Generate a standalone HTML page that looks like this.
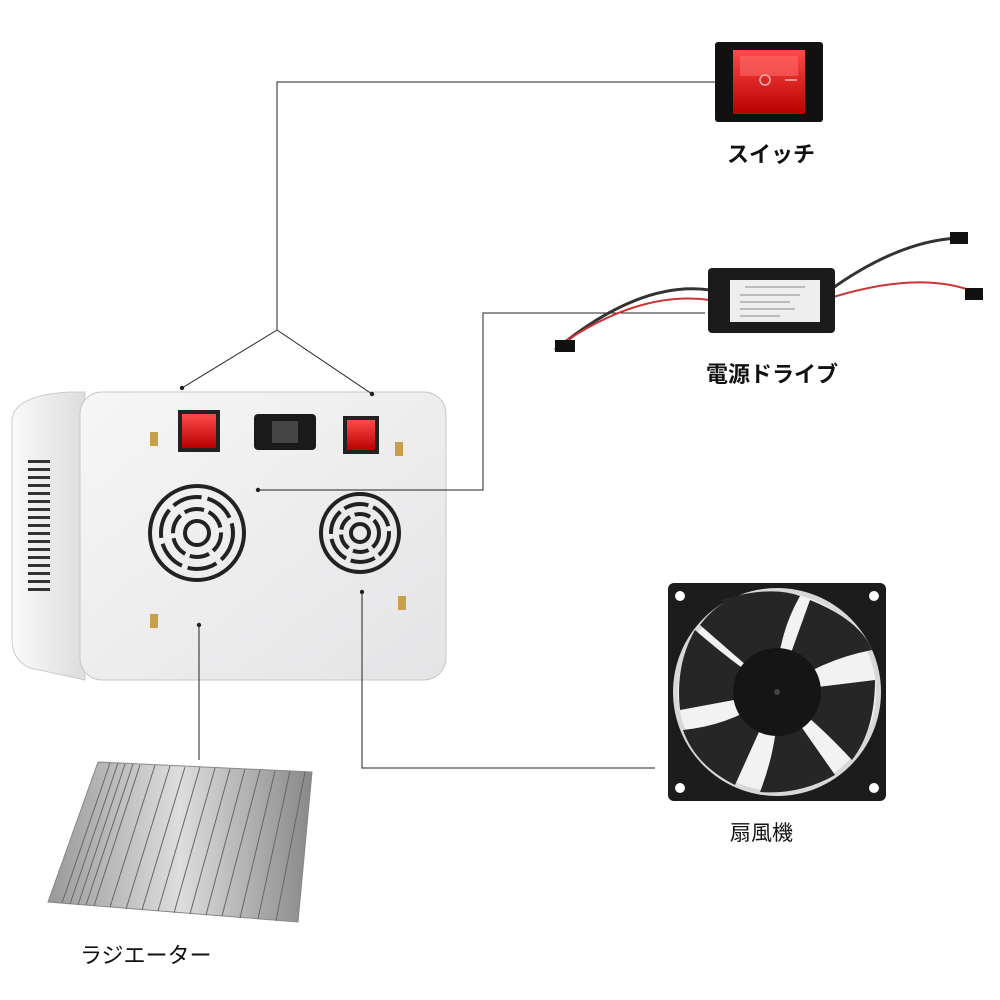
<!DOCTYPE html>
<html><head><meta charset="utf-8"><style>
html,body{margin:0;padding:0;background:#fff;}
body{width:1000px;height:1000px;position:relative;overflow:hidden;font-family:"Liberation Sans","Noto Sans CJK JP",sans-serif;}
.l{position:absolute;color:#111;white-space:nowrap;}
</style></head><body>
<svg width="1000" height="1000" style="position:absolute;left:0;top:0">
<defs>
<linearGradient id="pan" x1="0" y1="0" x2="1" y2="1"><stop offset="0" stop-color="#f6f6f6"/><stop offset="1" stop-color="#e4e4e6"/></linearGradient>
<linearGradient id="side" x1="0" y1="0" x2="1" y2="0"><stop offset="0" stop-color="#fafafa"/><stop offset="1" stop-color="#dcdcdc"/></linearGradient>
<linearGradient id="red" x1="0" y1="0" x2="0" y2="1"><stop offset="0" stop-color="#ff4a4a"/><stop offset="1" stop-color="#b80000"/></linearGradient>
<linearGradient id="rad" x1="0" y1="0" x2="1" y2="0"><stop offset="0" stop-color="#999"/><stop offset=".5" stop-color="#ddd"/><stop offset="1" stop-color="#888"/></linearGradient>
</defs>
<!-- LED box -->
<path d="M12,420 Q14,395 70,392 L85,392 L85,680 L30,668 Q12,660 12,640 Z" fill="url(#side)" stroke="#ccc"/>
<g fill="#333"><rect x="28" y="460" width="22" height="3"/><rect x="28" y="468" width="22" height="3"/><rect x="28" y="476" width="22" height="3"/><rect x="28" y="484" width="22" height="3"/><rect x="28" y="492" width="22" height="3"/><rect x="28" y="500" width="22" height="3"/><rect x="28" y="508" width="22" height="3"/><rect x="28" y="516" width="22" height="3"/><rect x="28" y="524" width="22" height="3"/><rect x="28" y="532" width="22" height="3"/><rect x="28" y="540" width="22" height="3"/><rect x="28" y="548" width="22" height="3"/><rect x="28" y="556" width="22" height="3"/><rect x="28" y="564" width="22" height="3"/><rect x="28" y="572" width="22" height="3"/><rect x="28" y="580" width="22" height="3"/><rect x="28" y="588" width="22" height="3"/></g>
<rect x="80" y="392" width="366" height="288" rx="22" fill="url(#pan)" stroke="#c8c8c8"/>
<rect x="178" y="410" width="42" height="42" fill="#222"/><rect x="182" y="414" width="34" height="34" fill="url(#red)"/>
<rect x="343" y="416" width="36" height="38" fill="#222"/><rect x="347" y="420" width="28" height="30" fill="url(#red)"/>
<rect x="254" y="414" width="62" height="36" rx="4" fill="#1a1a1a"/><rect x="272" y="421" width="26" height="22" fill="#444"/>
<g fill="#c9a04a"><rect x="150" y="432" width="8" height="14"/><rect x="395" y="442" width="8" height="14"/><rect x="150" y="614" width="8" height="14"/><rect x="398" y="596" width="8" height="14"/></g>
<g fill="none" stroke="#222" stroke-width="4">
<circle cx="197" cy="533" r="47"/><circle cx="197" cy="533" r="36" stroke-dasharray="30 6"/><circle cx="197" cy="533" r="24" stroke-dasharray="20 5"/><circle cx="197" cy="533" r="12"/>
<circle cx="360" cy="533" r="39"/><circle cx="360" cy="533" r="29" stroke-dasharray="25 5"/><circle cx="360" cy="533" r="19" stroke-dasharray="16 5"/><circle cx="360" cy="533" r="9"/>
</g>
<!-- connector lines (on top) -->
<g stroke="#222" stroke-width="1" fill="none">
<polyline points="715,82 277,82 277,330 182,388"/>
<line x1="277" y1="330" x2="372" y2="394"/>
<polyline points="258,490 483,490 483,313 705,313"/>
<line x1="199" y1="625" x2="199" y2="760"/>
<polyline points="362,592 362,768 655,768"/>
</g>
<g fill="#222"><circle cx="182" cy="388" r="2.2"/><circle cx="372" cy="394" r="2.2"/><circle cx="258" cy="490" r="2.2"/><circle cx="199" cy="625" r="2.2"/><circle cx="362" cy="592" r="2.2"/></g>
<!-- switch -->
<rect x="715" y="42" width="108" height="80" rx="3" fill="#111"/><rect x="733" y="50" width="72" height="64" fill="url(#red)"/>
<rect x="740" y="56" width="58" height="20" fill="#ff7070" opacity=".5"/>
<circle cx="765" cy="80" r="5" fill="none" stroke="#ffb0b0" stroke-width="1.5"/><line x1="785" y1="80" x2="797" y2="80" stroke="#ffb0b0" stroke-width="1.5"/>
<!-- power supply -->
<path d="M555,350 Q640,280 710,290" stroke="#333" stroke-width="3" fill="none"/><path d="M560,345 Q640,290 710,300" stroke="#c33" stroke-width="2" fill="none"/>
<path d="M830,290 Q900,240 960,238" stroke="#333" stroke-width="3" fill="none"/><path d="M830,298 Q920,270 975,292" stroke="#c33" stroke-width="2" fill="none"/>
<rect x="555" y="340" width="20" height="12" fill="#111"/><rect x="950" y="232" width="18" height="12" fill="#111"/><rect x="965" y="288" width="18" height="12" fill="#111"/>
<rect x="708" y="268" width="127" height="65" rx="4" fill="#1b1b1b"/><rect x="730" y="280" width="90" height="42" fill="#eee"/>
<g stroke="#888" stroke-width="1"><line x1="745" y1="287" x2="805" y2="287"/><line x1="740" y1="295" x2="800" y2="295"/><line x1="740" y1="302" x2="790" y2="302"/><line x1="740" y1="309" x2="795" y2="309"/><line x1="740" y1="316" x2="780" y2="316"/></g>
<!-- fan -->
<rect x="668" y="583" width="218" height="218" rx="6" fill="#1c1c1c"/><circle cx="777" cy="692" r="104" fill="#d8d8d8"/><circle cx="777" cy="692" r="99" fill="#f2f2f2"/>
<g fill="#262626">
<path d="M777,692 L720,600 Q770,585 800,596 Q775,640 777,692Z"/>
<path d="M777,692 L810,600 Q860,620 872,650 Q820,660 777,692Z"/>
<path d="M777,692 L875,680 Q875,730 852,760 Q815,720 777,692Z"/>
<path d="M777,692 L835,775 Q800,795 760,792 Q780,740 777,692Z"/>
<path d="M777,692 L735,785 Q695,765 683,730 Q735,725 777,692Z"/>
<path d="M777,692 L680,710 Q675,665 695,630 Q735,665 777,692Z"/>
<path d="M777,692 L700,625 Q715,605 735,597 Q750,650 777,692Z"/>
</g>
<circle cx="777" cy="692" r="44" fill="#151515"/><circle cx="777" cy="692" r="3" fill="#444"/>
<g fill="#fff"><circle cx="680" cy="596" r="5"/><circle cx="874" cy="596" r="5"/><circle cx="680" cy="788" r="5"/><circle cx="874" cy="788" r="5"/></g>
<!-- radiator -->
<path d="M98,762 L312,772 L298,922 L48,902 Z" fill="url(#rad)" stroke="#888"/>
<g stroke="#666" stroke-width="1">
<line x1="110" y1="763" x2="62" y2="903"/><line x1="118" y1="763" x2="70" y2="904"/><line x1="125" y1="764" x2="78" y2="905"/><line x1="133" y1="764" x2="86" y2="905"/><line x1="140" y1="765" x2="94" y2="906"/><line x1="155" y1="765" x2="110" y2="907"/><line x1="170" y1="766" x2="126" y2="909"/><line x1="185" y1="767" x2="142" y2="910"/><line x1="200" y1="767" x2="158" y2="911"/><line x1="215" y1="768" x2="174" y2="913"/><line x1="230" y1="769" x2="190" y2="914"/><line x1="245" y1="769" x2="206" y2="915"/><line x1="260" y1="770" x2="222" y2="916"/><line x1="275" y1="771" x2="240" y2="918"/><line x1="290" y1="771" x2="258" y2="919"/><line x1="305" y1="772" x2="276" y2="921"/>
</g>
</svg>
<div class="l" style="left:727px;top:137px;font-size:22px;font-weight:bold;">スイッチ</div>
<div class="l" style="left:706px;top:357px;font-size:22px;font-weight:bold;">電源ドライブ</div>
<div class="l" style="left:730px;top:817px;font-size:21px;">扇風機</div>
<div class="l" style="left:80px;top:938px;font-size:22px;">ラジエーター</div>
</body></html>
